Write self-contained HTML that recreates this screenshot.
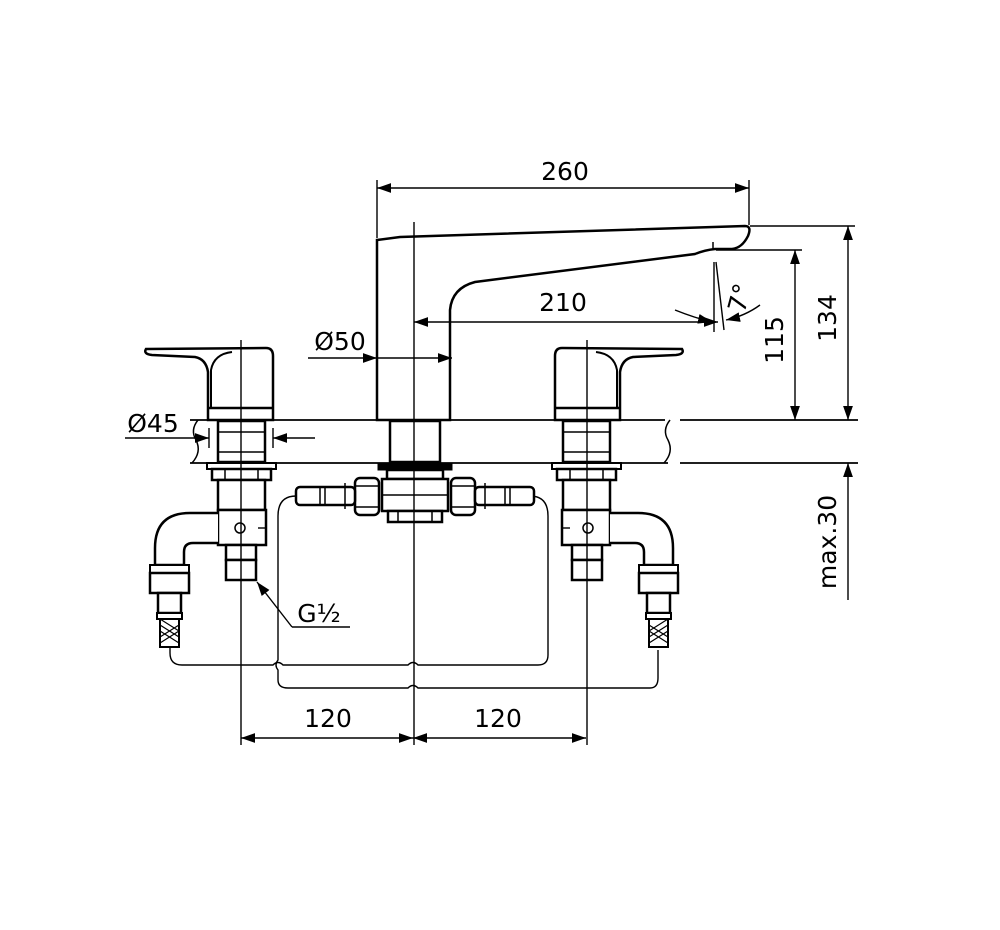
<!DOCTYPE html>
<html><head><meta charset="utf-8"><style>
html,body{margin:0;padding:0;background:#fff}
svg{display:block}
text{font-family:"DejaVu Sans","Liberation Sans",sans-serif;fill:#000}
</style></head><body>
<svg width="1000" height="930" viewBox="0 0 1000 930" xmlns="http://www.w3.org/2000/svg">
<defs>
<marker id="a" viewBox="0 0 10 10" refX="10" refY="5" markerWidth="14" markerHeight="14" markerUnits="userSpaceOnUse" orient="auto-start-reverse"><path d="M0,1.5 L10,5 L0,8.5z" fill="#000"/></marker>
<g id="valve" fill="#fff" stroke="#000" stroke-width="2.5">
  <!-- handle -->
  <path d="M146,349 L266,348 Q273,348 273,356 L273,420 L208,420 L208,372 Q206,359 195,357 L152,355 Q143,354 146,349 Z"/>
  <path d="M232,352 Q214,354 211,370 L211,408" fill="none" stroke-width="2"/>
  <line x1="208" y1="408" x2="273" y2="408"/>
  <!-- shaft -->
  <rect x="218" y="421" width="47" height="41"/>
  <line x1="218" y1="432" x2="265" y2="432" stroke-width="1.5"/>
  <line x1="218" y1="452" x2="265" y2="452" stroke-width="1.5"/>
  <rect x="207" y="463" width="69" height="6" stroke-width="2"/>
  <rect x="212" y="469" width="59" height="11"/>
  <line x1="225" y1="469" x2="225" y2="480" stroke-width="1.5"/><line x1="258" y1="469" x2="258" y2="480" stroke-width="1.5"/>
  <rect x="218" y="480" width="47" height="30"/>
  <path d="M218,510 L266,510 L266,545 L218,545 Z"/>
  <circle cx="240" cy="528" r="5" stroke-width="1.5"/>
  <!-- elbow -->
  <path d="M218,513 L190,513 Q155,513 155,548 L155,565 L184,565 L184,552 Q184,543 193,543 L218,543" />
  <rect x="150" y="565" width="39" height="8" stroke-width="2"/>
  <rect x="150" y="573" width="39" height="20"/>
  <rect x="158" y="593" width="23" height="20"/>
  <rect x="157" y="613" width="25" height="6" stroke-width="2"/>
  <rect x="160" y="619" width="19" height="28" stroke-width="2"/>
  <path d="M160,625 L179,637 M160,637 L179,625 M160,631 L179,643 M160,643 L179,631 M160,619 L179,631" stroke-width="1.2"/>
  <!-- inlet -->
  <rect x="226" y="545" width="30" height="15"/>
  <rect x="226" y="560" width="30" height="20"/>
</g>
</defs>

<g fill="none" stroke="#000">
<path d="M190,420 L665,420 M680,420 L858,420" stroke-width="1.8"/>
<path d="M190,463 L668,463 M680,463 L858,463" stroke-width="1.8"/>
<path d="M198,420 Q190,430 196,440 Q202,452 192,463" stroke-width="1.5"/>
<path d="M670,420 Q662,430 668,440 Q674,452 664,463" stroke-width="1.5"/>

<path d="M296,496 Q278,496 278,516 L278,660 Q274,665 278,670 L278,680 Q278,688 288,688 L408,688 Q413,683 418,688 L650,688 Q658,688 658,678 L658,650" stroke-width="1.4"/>
<path d="M530,496 Q548,496 548,516 L548,655 Q548,665 538,665 L418,665 Q413,660 408,665 L283,665 Q278,660 273,665 L182,665 Q170,665 170,653 L170,648" stroke-width="1.4"/>

<path d="M377,420 L377,240 L400,237 L745,226 Q752,226 748,236 Q742,248 732,249 L715,249 Q705,250 695,254 L475,282 Q452,288 450,310 L450,420 Z" fill="#fff" stroke-width="2.5"/>
<line x1="713" y1="242" x2="713" y2="250" stroke-width="1.5"/>
<rect x="390" y="421" width="50" height="41" fill="#fff" stroke-width="2.5"/>

<rect x="378" y="463" width="74" height="7" fill="#000" stroke-width="1"/>
<rect x="387" y="470" width="56" height="9" fill="#fff" stroke-width="2.5"/>
<rect x="382" y="479" width="66" height="32" fill="#fff" stroke-width="2.5"/>
<rect x="388" y="511" width="54" height="11" fill="#fff" stroke-width="2.5"/>
<path d="M398,511 V522 M432,511 V522" stroke-width="1.5"/>
<rect x="355" y="478" width="24" height="37" rx="5" fill="#fff" stroke-width="2.5"/>
<line x1="355" y1="486" x2="379" y2="486" stroke-width="1.5"/><line x1="355" y1="507" x2="379" y2="507" stroke-width="1.5"/>
<rect x="451" y="478" width="24" height="37" rx="5" fill="#fff" stroke-width="2.5"/>
<line x1="451" y1="486" x2="475" y2="486" stroke-width="1.5"/><line x1="451" y1="507" x2="475" y2="507" stroke-width="1.5"/>
<rect x="296" y="487" width="59" height="18" rx="4" fill="#fff" stroke-width="2.5"/>
<path d="M320,487 V505 M325,487 V505 M345,483 V509" stroke-width="1.5"/>
<rect x="475" y="487" width="59" height="18" rx="4" fill="#fff" stroke-width="2.5"/>
<path d="M510,487 V505 M505,487 V505 M485,483 V509" stroke-width="1.5"/>
<line x1="382" y1="495" x2="448" y2="495" stroke-width="1.5"/>
</g>

<use href="#valve"/>
<use href="#valve" transform="translate(828,0) scale(-1,1)"/>

<g fill="none" stroke="#000" stroke-width="1.4">
<line x1="414" y1="222" x2="414" y2="745"/>
<line x1="241" y1="340" x2="241" y2="745"/>
<line x1="587" y1="340" x2="587" y2="745"/>
<line x1="266" y1="528" x2="258" y2="528"/>
<line x1="562" y1="528" x2="570" y2="528"/>

<line x1="377" y1="180" x2="377" y2="238"/>
<line x1="749" y1="180" x2="749" y2="225"/>
<line x1="377" y1="188" x2="749" y2="188" marker-start="url(#a)" marker-end="url(#a)"/>
<line x1="414" y1="322" x2="718" y2="322" marker-start="url(#a)" marker-end="url(#a)"/>
<line x1="714" y1="262" x2="714" y2="332"/>
<line x1="716" y1="262" x2="724" y2="330"/>
<path d="M675,310 Q695,318 712,322" marker-end="url(#a)"/>
<path d="M760,305 Q745,316 726,320" marker-end="url(#a)"/>
<line x1="308" y1="358" x2="377" y2="358" marker-end="url(#a)"/>
<line x1="377" y1="358" x2="452" y2="358" marker-end="url(#a)"/>
<line x1="125" y1="438" x2="209" y2="438" marker-end="url(#a)"/>
<line x1="315" y1="438" x2="273" y2="438" marker-end="url(#a)"/>
<line x1="209" y1="428" x2="209" y2="448"/>
<line x1="273" y1="428" x2="273" y2="448"/>
<line x1="716" y1="250" x2="802" y2="250"/>
<line x1="795" y1="250" x2="795" y2="420" marker-start="url(#a)" marker-end="url(#a)"/>
<line x1="750" y1="226" x2="855" y2="226"/>
<line x1="848" y1="226" x2="848" y2="420" marker-start="url(#a)" marker-end="url(#a)"/>
<line x1="848" y1="600" x2="848" y2="463" marker-end="url(#a)"/>
<line x1="350" y1="627" x2="292" y2="627"/>
<line x1="292" y1="627" x2="257" y2="582" marker-end="url(#a)"/>
<line x1="241" y1="738" x2="413" y2="738" marker-start="url(#a)" marker-end="url(#a)"/>
<line x1="413" y1="738" x2="586" y2="738" marker-start="url(#a)" marker-end="url(#a)"/>
</g>

<g font-size="25">
<text x="565" y="180" text-anchor="middle">260</text>
<text x="563" y="311" text-anchor="middle">210</text>
<text x="340" y="350" text-anchor="middle">Ø50</text>
<text x="153" y="432" text-anchor="middle">Ø45</text>
<text x="319" y="622" text-anchor="middle">G½</text>
<text x="328" y="727" text-anchor="middle">120</text>
<text x="498" y="727" text-anchor="middle">120</text>
<text transform="translate(783,340) rotate(-90)" text-anchor="middle">115</text>
<text transform="translate(836,318) rotate(-90)" text-anchor="middle">134</text>
<text transform="translate(836,542) rotate(-90)" text-anchor="middle">max.30</text>
<text transform="translate(748,300) rotate(-75)" text-anchor="middle">7°</text>
</g>
</svg>
</body></html>
